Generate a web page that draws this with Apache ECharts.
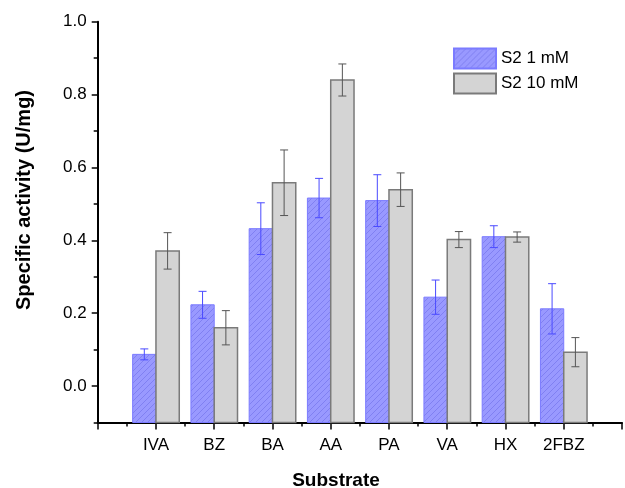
<!DOCTYPE html>
<html>
<head>
<meta charset="utf-8">
<script src="https://cdn.jsdelivr.net/npm/echarts@6/dist/echarts.min.js"></script>
<style>html,body{margin:0;padding:0;background:#fff;}#c{width:625px;height:488px;}</style>
</head>
<body>
<div id="c"></div>
<script>
const categories = ['IVA', 'BZ', 'BA', 'AA', 'PA', 'VA', 'HX', '2FBZ'];
const s1mM = [0.087, 0.223, 0.432, 0.516, 0.509, 0.244, 0.410, 0.212];
const s1mMErr = [0.015, 0.037, 0.071, 0.054, 0.071, 0.047, 0.030, 0.069];
const s10mM = [0.371, 0.160, 0.558, 0.840, 0.539, 0.402, 0.409, 0.093];
const s10mMErr = [0.050, 0.047, 0.090, 0.044, 0.046, 0.022, 0.014, 0.040];
const yTicks = [0.0, 0.2, 0.4, 0.6, 0.8, 1.0];
const Y_MIN = -0.1, Y_MAX = 1.0;

const FONT = '"Liberation Sans", Arial, sans-serif';

function hatch() {
  const s = 6;
  const c = document.createElement('canvas');
  c.width = s; c.height = s;
  const g = c.getContext('2d');
  g.fillStyle = 'rgb(153,153,255)';
  g.fillRect(0, 0, s, s);
  g.strokeStyle = 'rgb(128,128,242)';
  g.lineWidth = 1;
  g.beginPath();
  g.moveTo(-1, s + 1); g.lineTo(s + 1, -1);
  g.moveTo(-1 - s, s + 1); g.lineTo(1, -1);
  g.moveTo(s - 1, s + 1); g.lineTo(2 * s + 1, -1);
  g.stroke();
  return c;
}

function mkData(vals, errs) {
  return vals.map((v, i) => [i + 1, v, errs[i]]);
}

function barRender(side, errColor) {
  return function (params, api) {
    const x = api.value(0), v = api.value(1), e = api.value(2);
    const w = api.size([1, 0])[0] * 0.4;
    const top = api.coord([x, v]);
    const base = api.coord([x, Y_MIN]);
    const left = side < 0 ? top[0] - w : top[0];
    const cx = left + w / 2;
    const hi = api.coord([x, v + e])[1];
    const lo = api.coord([x, v - e])[1];
    const cap = 4;
    const st = api.style();
    return {
      type: 'group',
      children: [
        { type: 'rect', shape: { x: left, y: top[1], width: w, height: base[1] - top[1] }, style: st },
        { type: 'line', shape: { x1: cx, y1: hi, x2: cx, y2: lo }, style: { stroke: errColor, lineWidth: 1 } },
        { type: 'line', shape: { x1: cx - cap, y1: hi, x2: cx + cap, y2: hi }, style: { stroke: errColor, lineWidth: 1 } },
        { type: 'line', shape: { x1: cx - cap, y1: lo, x2: cx + cap, y2: lo }, style: { stroke: errColor, lineWidth: 1 } }
      ]
    };
  };
}

const chart = echarts.init(document.getElementById('c'), null, { renderer: 'canvas' });
const gridTop = 21.7, axisY = 422.5;
const unit = (axisY - gridTop) / (Y_MAX - Y_MIN);
const zeroY = axisY + Y_MIN * unit;

chart.setOption({
  animation: false,
  backgroundColor: '#fff',
  textStyle: { fontFamily: FONT },
  grid: [
    { left: 97.7, right: -6.4, top: gridTop, bottom: 488 - axisY },
    { left: 97.7, right: -6.4, top: gridTop, bottom: 488 - zeroY }
  ],
  xAxis: [
    {
      type: 'value', gridIndex: 0, min: 0, max: 9, interval: 1,
      axisLine: { show: true, onZero: false, lineStyle: { color: '#000', width: 2 } },
      axisTick: { show: true, length: 7, lineStyle: { color: '#000', width: 1.5 } },
      minorTick: { show: true, splitNumber: 2, length: 4, lineStyle: { color: '#000', width: 1.5 } },
      splitLine: { show: false },
      axisLabel: {
        show: true, margin: 14, fontSize: 17, color: '#000', fontFamily: FONT,
        formatter: v => (Number.isInteger(v) && v >= 1 && v <= categories.length) ? categories[v - 1] : ''
      }
    },
    { type: 'value', gridIndex: 1, min: 0, max: 9, show: false }
  ],
  yAxis: [
    {
      type: 'value', gridIndex: 0, min: Y_MIN, max: Y_MAX, interval: 0.1,
      axisLine: { show: true, lineStyle: { color: '#000', width: 2 } },
      axisTick: { show: true, length: 4, lineStyle: { color: '#000', width: 1.5 } },
      axisLabel: { show: false },
      splitLine: { show: false }
    },
    {
      type: 'value', gridIndex: 1, min: yTicks[0], max: yTicks[yTicks.length - 1], interval: 0.2,
      axisLine: { show: false },
      axisTick: { show: true, length: 6, lineStyle: { color: '#000', width: 1.5 } },
      axisLabel: { show: true, margin: 11, fontSize: 17, color: '#000', fontFamily: FONT, formatter: v => v.toFixed(1) },
      splitLine: { show: false }
    }
  ],
  legend: {
    orient: 'vertical', left: 453, top: 47.5, padding: 0,
    itemWidth: 42, itemHeight: 20, itemGap: 3,
    textStyle: { fontSize: 17, color: '#000', fontFamily: FONT },
    data: [{ name: 'S2 1 mM', icon: 'rect' }, { name: 'S2 10 mM', icon: 'rect' }]
  },
  series: [
    {
      name: 'S2 1 mM', type: 'custom', xAxisIndex: 0, yAxisIndex: 0,
      renderItem: barRender(-1, '#4a4aff'),
      itemStyle: { color: { image: hatch(), repeat: 'repeat' }, borderColor: '#7b7bff', borderWidth: 1 },
      encode: { x: 0, y: 1 },
      data: mkData(s1mM, s1mMErr)
    },
    {
      name: 'S2 10 mM', type: 'custom', xAxisIndex: 0, yAxisIndex: 0,
      renderItem: barRender(1, '#555555'),
      itemStyle: { color: '#d4d4d4', borderColor: '#7a7a7a', borderWidth: 1.5 },
      encode: { x: 0, y: 1 },
      data: mkData(s10mM, s10mMErr)
    }
  ],
  graphic: [
    {
      type: 'text', x: 24, y: 200, rotation: Math.PI / 2,
      style: { text: 'Specific activity (U/mg)', font: 'bold 20px ' + FONT, fill: '#000', textAlign: 'center', textVerticalAlign: 'middle' }
    },
    {
      type: 'text', x: 336, y: 481,
      style: { text: 'Substrate', font: 'bold 19px ' + FONT, fill: '#000', textAlign: 'center', textVerticalAlign: 'middle' }
    }
  ]
});
</script>
</body>
</html>
